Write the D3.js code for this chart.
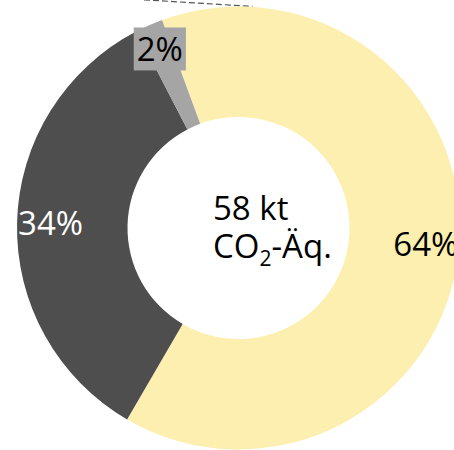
<!DOCTYPE html>
<html>
<head>
<meta charset="utf-8">
<script src="https://cdn.jsdelivr.net/npm/d3@7"></script>
<style>
  html, body { margin: 0; padding: 0; background: #ffffff; overflow: hidden; }
  svg { display: block; }
  text { font-family: "Open Sans", "Noto Sans", sans-serif; }
</style>
</head>
<body>
<svg id="chart" width="454" height="450"></svg>
<script>
// Shares of total emissions (percent)
const categories = ["Anteil A", "Anteil B", "Anteil C"];
const values = [64, 34, 2];
const colors = ["#FCEFB0", "#4E4E4E", "#A5A5A5"];
const labelColors = ["#000000", "#ffffff", "#000000"];
const totalLine1 = "58 kt";
const totalLine2 = ["CO", "2", "-Äq."];

const width = 454, height = 450;
const cx = 238.5, cy = 228;
const outerR = 221.5, innerR = 111;
const labelR = 188, smallLabelR = 195;
const startAngle = -20.2 * Math.PI / 180;

const svg = d3.select("#chart");
const g = svg.append("g").attr("transform", `translate(${cx},${cy})`);

const pie = d3.pie()
  .value(d => d.value)
  .sort(null)
  .startAngle(startAngle)
  .endAngle(startAngle + 2 * Math.PI);

const data = categories.map((c, i) => ({ name: c, value: values[i], i }));
const arcs = pie(data);

const arc = d3.arc().innerRadius(innerR).outerRadius(outerR);
const labelArc = d3.arc().innerRadius(labelR).outerRadius(labelR);
const smallLabelArc = d3.arc().innerRadius(smallLabelR).outerRadius(smallLabelR);

// leader line running off the top edge
const leadA = 3.6 * Math.PI / 180, leadB = -22.5 * Math.PI / 180;
const leadRa = outerR + 0.5, leadRb = outerR + 25.5;
g.append("line")
  .attr("x1", leadRb * Math.sin(leadB)).attr("y1", -leadRb * Math.cos(leadB))
  .attr("x2", leadRa * Math.sin(leadA)).attr("y2", -leadRa * Math.cos(leadA))
  .attr("stroke", "#555555").attr("stroke-width", 1.2)
  .attr("stroke-dasharray", "6,3");

g.selectAll("path.slice")
  .data(arcs)
  .join("path")
  .attr("class", "slice")
  .attr("d", arc)
  .attr("fill", d => colors[d.data.i]);

// value labels
const lab = g.selectAll("g.lab")
  .data(arcs)
  .join("g")
  .attr("class", "lab")
  .attr("transform", d => {
    const a = d.data.value < 5 ? smallLabelArc : labelArc;
    const [x, y] = a.centroid(d);
    return `translate(${x},${y})`;
  });

lab.each(function(d) {
  const sel = d3.select(this);
  const t = sel.append("text")
    .attr("text-anchor", "middle")
    .attr("dy", "0.36em")
    .attr("font-size", 33)
    .attr("fill", labelColors[d.data.i])
    .text(d.data.value + "%");
  // small slices get a filled box behind the label
  if (d.data.value < 5) {
    const bb = t.node().getBBox();
    sel.insert("rect", "text")
      .attr("x", bb.x - 3).attr("y", bb.y + 1)
      .attr("width", bb.width + 6).attr("height", bb.height - 2)
      .attr("fill", colors[d.data.i]);
  }
});

// total in the centre
const tx = cx - 25.5;
svg.append("text")
  .attr("x", tx).attr("y", cy - 8)
  .attr("font-size", 33)
  .attr("fill", "#000")
  .text(totalLine1);

const t2 = svg.append("text")
  .attr("x", tx).attr("y", cy + 30)
  .attr("font-size", 33)
  .attr("fill", "#000");
t2.append("tspan").text(totalLine2[0]);
t2.append("tspan").attr("font-size", 21).attr("dy", 8).text(totalLine2[1]);
t2.append("tspan").attr("dy", -8).text(totalLine2[2]);
</script>
</body>
</html>
